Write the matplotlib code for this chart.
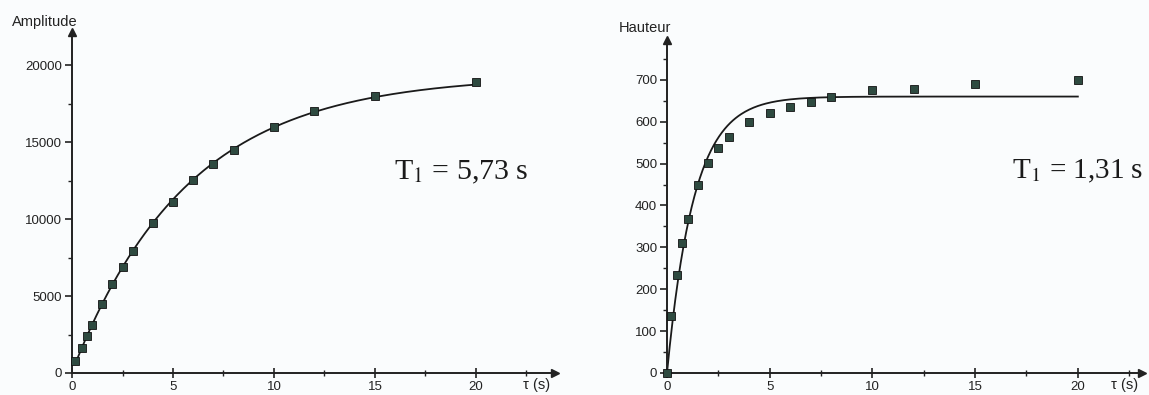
import numpy as np
import matplotlib
matplotlib.use("Agg")
import matplotlib.pyplot as plt
from matplotlib.ticker import MultipleLocator

# données
tau_amp = [0.15, 0.5, 0.75, 1, 1.5, 2, 2.5, 3, 4, 5, 6, 7, 8, 10, 12, 15, 20]
amplitude = [780, 1640, 2400, 3120, 4500, 5760, 6900, 7920, 9720, 11120,
             12510, 13590, 14480, 15950, 17010, 17970, 18880]
T1_amp = 5.73

tau_h = [0, 0.2, 0.5, 0.75, 1, 1.5, 2, 2.5, 3, 4, 5, 6, 7, 8, 10, 12, 15, 20]
hauteur = [0, 137, 235, 310, 367, 450, 502, 538, 564, 600, 620, 635, 648,
           658, 675, 677, 689, 700]
T1_h = 1.31
h_inf = 660

bg = "#fafcfd"
pt_col = "#2e4a40"
ink = "#222222"

plt.rcParams["font.family"] = ["Liberation Sans", "DejaVu Sans"]
plt.rcParams["mathtext.fontset"] = "stix"
plt.rcParams["xtick.labelsize"] = 9.5
plt.rcParams["ytick.labelsize"] = 9.5

fig = plt.figure(figsize=(11.49, 3.95), dpi=100, facecolor=bg)
ax1 = fig.add_axes([0.0627, 0.0557, 0.420, 0.863])
ax2 = fig.add_axes([0.5805, 0.0557, 0.413, 0.843])


def style_axes(ax, xmax, ymax, yticks, yminor):
    ax.set_facecolor(bg)
    ax.set_xlim(0, xmax)
    ax.set_ylim(0, ymax)
    ax.set_xticks([0, 5, 10, 15, 20])
    ax.set_yticks(yticks)
    for s in ["top", "right"]:
        ax.spines[s].set_visible(False)
    for s in ["left", "bottom"]:
        ax.spines[s].set_linewidth(1.4)
        ax.spines[s].set_color(ink)
    ax.xaxis.set_minor_locator(MultipleLocator(2.5))
    ax.yaxis.set_minor_locator(MultipleLocator(yminor))
    ax.tick_params(which="major", length=5, width=1.2, colors=ink)
    ax.tick_params(axis="x", which="major", direction="inout", length=7, pad=2)
    ax.tick_params(axis="y", which="major", pad=2)
    ax.tick_params(which="minor", length=3, width=1, colors=ink)
    ax.tick_params(axis="x", which="minor", direction="inout", length=4)
    # flèches au bout des axes
    ax.plot(1, 0, ">", color=ink, ms=6, transform=ax.transAxes, clip_on=False)
    ax.plot(0, 1, "^", color=ink, ms=6, transform=ax.transAxes, clip_on=False)


style_axes(ax1, 23.9, 22140, [0, 5000, 10000, 15000, 20000], 2500)
style_axes(ax2, 23.1, 795, [0, 100, 200, 300, 400, 500, 600, 700], 50)

fig.text(12 / 1149, 1 - 22 / 395, "Amplitude", ha="left", va="center",
         fontsize=10.5, color=ink)
fig.text(619 / 1149, 1 - 28 / 395, "Hauteur", ha="left", va="center",
         fontsize=10.5, color=ink)
fig.text(523 / 1149, 1 - 385 / 395, "τ (s)", ha="left", va="center",
         fontsize=10.5, color=ink)
fig.text(1111 / 1149, 1 - 385 / 395, "τ (s)", ha="left", va="center",
         fontsize=10.5, color=ink)

# courbe d'ajustement (T1 fixé, amplitude et décalage par moindres carrés)
t = np.array(tau_amp)
f = 1 - np.exp(-t / T1_amp)
A, C = np.polyfit(f, np.array(amplitude), 1)
tt = np.linspace(tau_amp[0], tau_amp[-1], 300)
ax1.plot(tt, A * (1 - np.exp(-tt / T1_amp)) + C, color="#1a1a1a", lw=1.3)
ax1.plot(tau_amp, amplitude, "s", color=pt_col, mec="#111111", mew=0.6, ms=6,
         clip_on=False, zorder=3)

tt2 = np.linspace(0, tau_h[-1], 300)
ax2.plot(tt2, h_inf * (1 - np.exp(-tt2 / T1_h)), color="#1a1a1a", lw=1.3)
ax2.plot(tau_h, hauteur, "s", color=pt_col, mec="#111111", mew=0.6, ms=6,
         clip_on=False, zorder=3)

ax1.text(0.668, 0.59, r"T$_1$ = 5,73 s", transform=ax1.transAxes, fontsize=21.5,
         family="Liberation Serif", va="center", ha="left", color="#1a1a1a")
ax2.text(0.728, 0.605, r"T$_1$ = 1,31 s", transform=ax2.transAxes, fontsize=21,
         family="Liberation Serif", va="center", ha="left", color="#1a1a1a")

fig.savefig("out.png", dpi=100, facecolor=bg)
